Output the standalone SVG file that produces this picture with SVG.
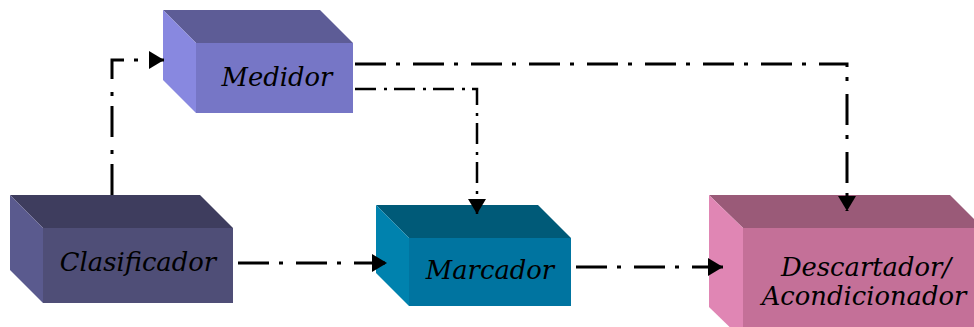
<svg xmlns="http://www.w3.org/2000/svg" width="974" height="327" viewBox="0 0 974 327">
  <style>
    text { font-family: 'DejaVu Serif', 'Liberation Serif', serif; font-style: italic; font-size: 25.8px; fill: #000; text-anchor: middle; }
    .flow { fill: none; stroke: #000; stroke-width: 3; stroke-dasharray: 31 10 4 13; }
    .flow-thin { fill: none; stroke: #000; stroke-width: 2.5; stroke-dasharray: 21 8 3 7; }
  </style>
  <defs>
    <marker id="arrow" markerUnits="userSpaceOnUse" markerWidth="20" markerHeight="22" viewBox="0 0 20 22" refX="15" refY="11" orient="auto">
      <path d="M0,2 L15,11 L0,20 Z" fill="#000"/>
    </marker>
  </defs>

  <rect width="974" height="327" fill="#fff"/>

  <!-- Medidor -->
  <g id="medidor">
    <polygon points="163,10 320,10 353,43 196,43" fill="#5d5c96"/>
    <polygon points="163,10 196,43 196,113 163,80" fill="#8888e0"/>
    <rect x="196" y="43" width="157" height="70" fill="#7676c6"/>
    <text x="277" y="86">Medidor</text>
  </g>

  <!-- Clasificador -->
  <g id="clasificador">
    <polygon points="10,195 200,195 233,228 43,228" fill="#3e3d5e"/>
    <polygon points="10,195 43,228 43,303 10,270" fill="#5a5a8e"/>
    <rect x="43" y="228" width="190" height="75" fill="#4f4e77"/>
    <text x="138" y="271">Clasificador</text>
  </g>

  <!-- Marcador -->
  <g id="marcador">
    <polygon points="376,205 538,205 571,238 409,238" fill="#005a78"/>
    <polygon points="376,205 409,238 409,306 376,273" fill="#0082ae"/>
    <rect x="409" y="238" width="162" height="68" fill="#0074a0"/>
    <text x="490" y="279">Marcador</text>
  </g>

  <!-- Descartador / Acondicionador -->
  <g id="descartador">
    <polygon points="709,195 950,195 983,228 743,228" fill="#9a5a78"/>
    <polygon points="709,195 743,228 743,340 709,307" fill="#e086b4"/>
    <rect x="743" y="228" width="240" height="112" fill="#c47098"/>
    <text x="866" y="276">Descartador/</text>
    <text x="864" y="305">Acondicionador</text>
  </g>

  <!-- connectors, drawn over the boxes so the arrowheads stay visible -->
  <g id="connectors">
    <path class="flow" d="M112,195 V60 H164" marker-end="url(#arrow)"/>
    <path class="flow" d="M238,263 H387" marker-end="url(#arrow)"/>
    <path class="flow" d="M576,267 H723" marker-end="url(#arrow)"/>
    <path class="flow" d="M355,64 H847 V211" marker-end="url(#arrow)"/>
    <path class="flow-thin" d="M355,89 H477 V214" marker-end="url(#arrow)"/>
  </g>
</svg>
